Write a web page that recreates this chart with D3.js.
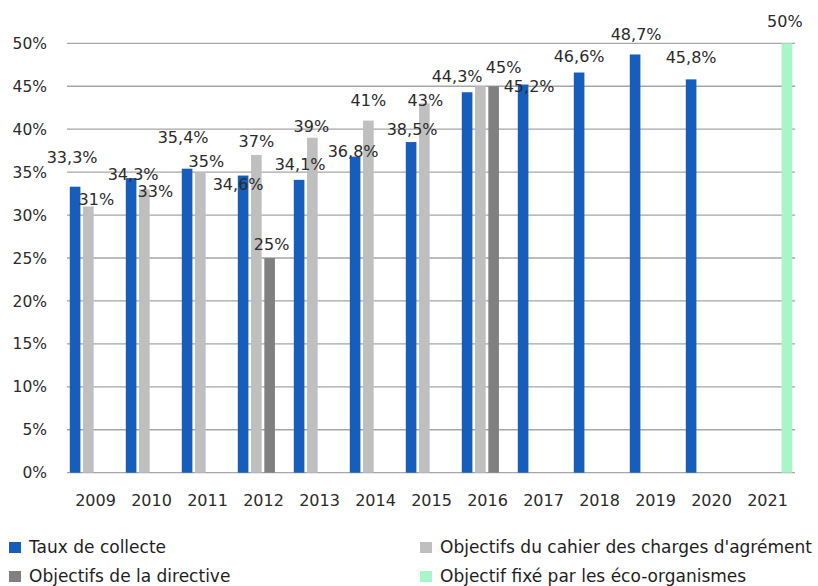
<!DOCTYPE html>
<html>
<head>
<meta charset="utf-8">
<script src="https://cdn.jsdelivr.net/npm/d3@7"></script>
<style>
  html, body { margin: 0; padding: 0; background: #fff; }
  svg { display: block; font-family: "DejaVu Sans", Verdana, sans-serif; }
</style>
</head>
<body>
<svg id="chart" width="818" height="586"></svg>
<script>
// ---- data ----
const years = ["2009","2010","2011","2012","2013","2014","2015","2016","2017","2018","2019","2020","2021"];
const tauxCollecte       = [33.3, 34.3, 35.4, 34.6, 34.1, 36.8, 38.5, 44.3, 45.2, 46.6, 48.7, 45.8, null];
const objectifsCahier    = [31, 33, 35, 37, 39, 41, 43, 45, null, null, null, null, null];
const objectifsDirective = [null, null, null, 25, null, null, null, 45, null, null, null, null, null];
const objectifEco        = [null, null, null, null, null, null, null, null, null, null, null, null, 50];
const yTicks = [0, 5, 10, 15, 20, 25, 30, 35, 40, 45, 50];
const seriesNames = ["Taux de collecte", "Objectifs du cahier des charges d'agrément", "Objectifs de la directive", "Objectif fixé par les éco-organismes"];

// label visibility and nudges (dx, dy) relative to bar centre / bar top
const showLabels = [
  [1,1,1,1,1,1,1,1,1,1,1,1,0],
  [1,1,1,1,1,1,1,0,0,0,0,0,0],
  [0,0,0,1,0,0,0,1,0,0,0,0,0],
  [0,0,0,0,0,0,0,0,0,0,0,0,1]
];
const nudges = [
  [[-3,-24],[2,2],[-4,-26],[-5,14],[1,-10],[-2,0],[1,-7],[-10,-10],[6,7],[0,-10],[1,-14],[0,-16],[0,0]],
  [[8,-1],[11,8],[6,-5],[0,-8],[-1,-6],[0,-15],[1,3],[0,0],[0,0],[0,0],[0,0],[0,0],[0,0]],
  [[0,0],[0,0],[0,0],[2,-8],[0,0],[0,0],[0,0],[10,-13],[0,0],[0,0],[0,0],[0,0],[0,0]],
  [[0,0],[0,0],[0,0],[0,0],[0,0],[0,0],[0,0],[0,0],[0,0],[0,0],[0,0],[0,0],[-2,-16]]
];
const seriesValues = [tauxCollecte, objectifsCahier, objectifsDirective, objectifEco];
const colors = ["#175dbb", "#bfbfbf", "#808080", "#a8f6c8"];

// ---- layout ----
const svg = d3.select("#chart");
const plotLeft = 67, plotRight = 795, plotTop = 43.3, plotBottom = 472.7;

const x0 = d3.scaleBand().domain(years).range([plotLeft, plotRight]).paddingInner(0.1).paddingOuter(0.05);
const x1 = d3.scaleBand().domain(d3.range(4)).range([0, x0.bandwidth()]).paddingInner(0.2).paddingOuter(0);
const y = d3.scaleLinear().domain([0, 50]).range([plotBottom, plotTop]);

const fmt = v => (Number.isInteger(v) ? String(v) : v.toFixed(1).replace(".", ",")) + "%";

// grid lines
svg.append("g").selectAll("line").data(yTicks).join("line")
  .attr("x1", plotLeft).attr("x2", plotRight)
  .attr("y1", d => y(d)).attr("y2", d => y(d))
  .attr("stroke", "#a6a6a6").attr("stroke-width", 1.3);

// y axis labels
svg.append("g").selectAll("text").data(yTicks).join("text")
  .attr("x", 47).attr("y", d => y(d)).attr("dy", "0.36em")
  .attr("text-anchor", "end").attr("font-size", 15.5).attr("fill", "#2b2b2b")
  .text(d => d + "%");

// x axis labels
svg.append("g").selectAll("text").data(years).join("text")
  .attr("x", d => x0(d) + x0.bandwidth() / 2 + 0.5).attr("y", 506)
  .attr("text-anchor", "middle").attr("font-size", 16).attr("fill", "#2b2b2b")
  .text(d => d);

// bars
const barData = [];
seriesValues.forEach((vals, s) => vals.forEach((v, i) => {
  if (v != null) barData.push({ s, i, v });
}));

svg.append("g").selectAll("rect").data(barData).join("rect")
  .attr("x", d => x0(years[d.i]) + x1(d.s))
  .attr("width", x1.bandwidth())
  .attr("y", d => y(d.v))
  .attr("height", d => y(0) - y(d.v))
  .attr("fill", d => colors[d.s]);

// value labels
svg.append("g").selectAll("text").data(barData.filter(d => showLabels[d.s][d.i])).join("text")
  .attr("x", d => x0(years[d.i]) + x1(d.s) + x1.bandwidth() / 2 + nudges[d.s][d.i][0])
  .attr("y", d => y(d.v) + nudges[d.s][d.i][1])
  .attr("text-anchor", "middle").attr("font-size", 16).attr("fill", "#2b2b2b")
  .text(d => fmt(d.v));

// legend
const legendItems = [
  { s: 0, x: 9, y: 553 },
  { s: 2, x: 9, y: 582 },
  { s: 1, x: 420, y: 553 },
  { s: 3, x: 420, y: 582 }
];
const lg = svg.append("g").selectAll("g").data(legendItems).join("g");
lg.append("rect").attr("x", d => d.x).attr("y", d => d.y - 11).attr("width", 12).attr("height", 11)
  .attr("fill", d => colors[d.s]);
lg.append("text").attr("x", d => d.x + 20).attr("y", d => d.y)
  .attr("font-size", 17).attr("fill", "#1e1e1e")
  .text(d => seriesNames[d.s]);
</script>
</body>
</html>
